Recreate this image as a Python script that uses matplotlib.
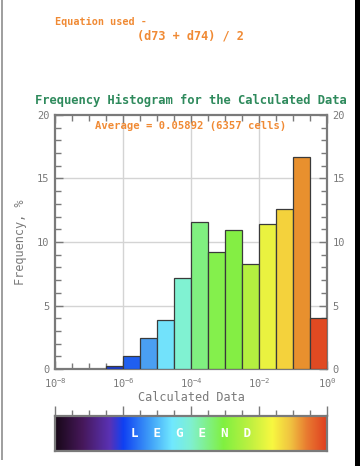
import numpy as np
import matplotlib
matplotlib.use('Agg')
import matplotlib.pyplot as plt
from matplotlib.colors import LinearSegmentedColormap
from matplotlib.ticker import FixedLocator, NullFormatter
from matplotlib.patches import Rectangle

# histogram bins (log10 of lower / upper edge) and frequencies in %
bin_lo_exp = [-6.5, -6.0, -5.5, -5.0, -4.5, -4.0, -3.5, -3.0, -2.5, -2.0, -1.5, -1.0, -0.5]
bin_hi_exp = [-6.0, -5.5, -5.0, -4.5, -4.0, -3.5, -3.0, -2.5, -2.0, -1.5, -1.0, -0.5, 0.0]
freq = [0.26, 1.05, 2.42, 3.86, 7.2, 11.55, 9.24, 10.94, 8.24, 11.42, 12.6, 16.7, 4.0]
bar_colors = ['#1a3ccc', '#1f5ff0', '#4a9ff2', '#72e2fb', '#80f2d2', '#80f080',
              '#84f04c', '#84ee44', '#b4f040', '#eaf240', '#f4d23c', '#e8902e', '#e04a22']

x_major = [1e-8, 1e-6, 1e-4, 1e-2, 1e0]
x_major_labels = [r'$10^{-8}$', r'$10^{-6}$', r'$10^{-4}$', r'$10^{-2}$', r'$10^{0}$']
y_major = [0, 5, 10, 15, 20]

legend_stops = [(0.0, '#180818'), (0.1, '#46185a'), (0.2, '#5a32b4'), (0.25, '#1040f2'),
                (0.35, '#40a0f8'), (0.43, '#70e8ff'), (0.5, '#80f0d0'), (0.62, '#80f040'),
                (0.72, '#c0f040'), (0.8, '#f8f840'), (0.87, '#f0c040'), (0.93, '#e87830'),
                (1.0, '#e04020')]

plt.rcParams['font.family'] = ['DejaVu Sans Mono']
plt.rcParams['mathtext.fontset'] = 'custom'
plt.rcParams['mathtext.rm'] = 'DejaVu Sans Mono'
plt.rcParams['mathtext.it'] = 'DejaVu Sans Mono'

grey = '#7a7a7a'
orange = '#f08a34'
green = '#2e8a5c'

fig = plt.figure(figsize=(3.6, 4.66), dpi=100)
fig.patch.set_facecolor('white')

# page frame bits
fig.add_artist(Rectangle((0.002, 6 / 466), 2 / 360, 460 / 466, transform=fig.transFigure,
                         color='#a0a0a0', lw=0))
fig.add_artist(Rectangle((355 / 360, 0), 5 / 360, 1, transform=fig.transFigure,
                         color='black', lw=0))

fig.text(55 / 360, 1 - 22 / 466, 'Equation used -', color=orange, fontsize=7.3,
         fontweight='bold', va='center', ha='left')
fig.text(137 / 360, 1 - 36 / 466, '(d73 + d74) / 2', color=orange, fontsize=8.6,
         fontweight='bold', va='center', ha='left')
fig.text(191 / 360, 1 - 100 / 466, 'Frequency Histogram for the Calculated Data', color=green,
         fontsize=8.7, fontweight='bold', va='center', ha='center')

ax = fig.add_axes([55 / 360, 97 / 466, 272 / 360, 254 / 466])
ax.set_xscale('log')
lo = [10 ** e for e in bin_lo_exp]
hi = [10 ** e for e in bin_hi_exp]
widths = [h - l for l, h in zip(lo, hi)]
ax.bar(lo, freq, width=widths, align='edge', color=bar_colors, edgecolor='#3a3a3a',
       linewidth=0.9, zorder=3)
ax.set_xlim(1e-8, 1e0)
ax.set_ylim(0, 20)

for xv in x_major[1:-1]:
    ax.axvline(xv, color='#d4d4d4', lw=1, zorder=1)
for yv in y_major[1:-1]:
    ax.axhline(yv, color='#d4d4d4', lw=1, zorder=1)

ax.xaxis.set_major_locator(FixedLocator(x_major))
ax.set_xticklabels(x_major_labels)
ax.xaxis.set_minor_locator(FixedLocator([10 ** (e / 2) for e in range(-16, 1)]))
ax.xaxis.set_minor_formatter(NullFormatter())
ax.yaxis.set_major_locator(FixedLocator(y_major))
ax.yaxis.set_minor_locator(FixedLocator(list(range(0, 21))))
ax.tick_params(which='both', direction='in', top=True, right=True, labelright=True,
               color=grey, labelcolor=grey, labelsize=7.5, width=1)
ax.tick_params(which='major', length=6)
ax.tick_params(axis='x', which='major', pad=5)
ax.tick_params(axis='y', which='major', pad=4)
ax.tick_params(which='minor', length=4)
for s in ax.spines.values():
    s.set_color(grey)
    s.set_linewidth(1.6)

ax.text(0.5, 0.955, 'Average = 0.05892 (6357 cells)', transform=ax.transAxes, color=orange,
        fontsize=7.6, fontweight='bold', ha='center', va='center')
ax.set_xlabel('Calculated Data', color=grey, fontsize=8.6, labelpad=1)
ax.set_ylabel('Frequency, %', color=grey, fontsize=8.6, labelpad=7)

# legend colour bar
cmap = LinearSegmentedColormap.from_list('legend', legend_stops)
cax = fig.add_axes([55 / 360, 15 / 466, 272 / 360, 35 / 466])
cax.imshow(np.linspace(0, 1, 512)[None, :], aspect='auto', cmap=cmap, extent=[0, 1, 0, 1])
cax.set_xlim(0, 1)
cax.set_ylim(0, 1)
cax.xaxis.set_major_locator(FixedLocator([0, 0.25, 0.5, 0.75, 1]))
cax.xaxis.set_minor_locator(FixedLocator([i / 16 for i in range(17)]))
cax.tick_params(which='both', top=True, bottom=False, left=False, labelbottom=False,
                labelleft=False, direction='out', color=grey, width=1)
cax.tick_params(which='major', length=7)
cax.tick_params(which='minor', length=4)
cax.set_yticks([])
for s in cax.spines.values():
    s.set_color(grey)
    s.set_linewidth(1.6)
cax.text(0.5, 0.5, 'L  E  G  E  N  D', transform=cax.transAxes, color='white', fontsize=9,
         fontweight='bold', ha='center', va='center')

fig.savefig('out.png', dpi=100)
